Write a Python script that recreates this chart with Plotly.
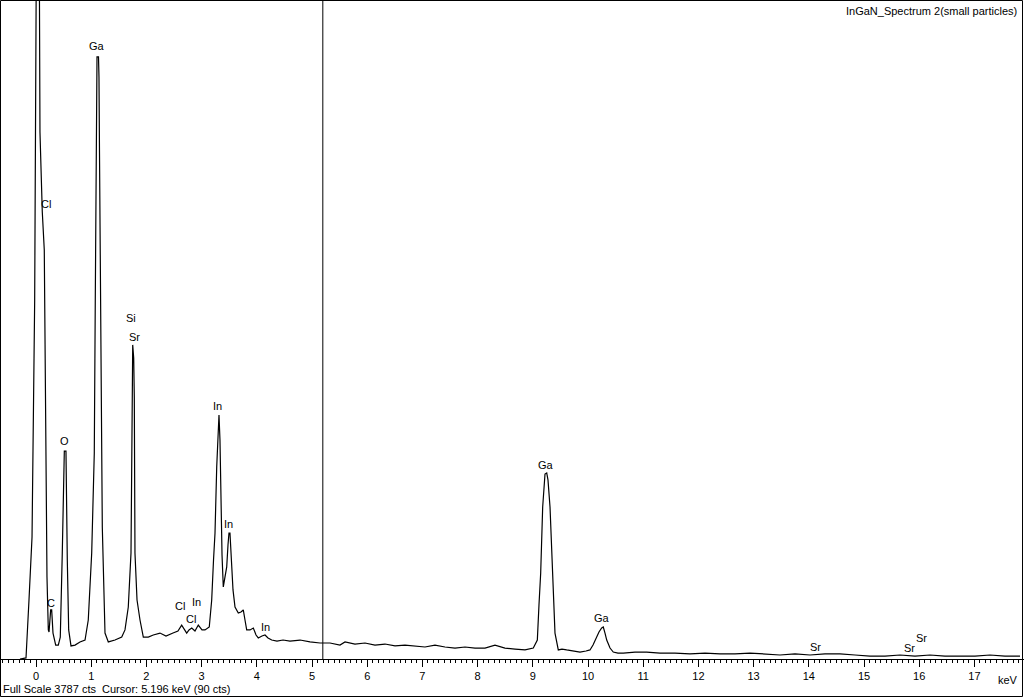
import plotly.graph_objects as go

# Spectrum: energy (keV) and counts
energy_kev = [
    -0.29, -0.181, -0.127, -0.072, -0.024, 0.036, 0.072, 0.096, 0.114, 0.150,
    0.176, 0.199, 0.223, 0.236, 0.266, 0.284, 0.308, 0.357, 0.404, 0.440,
    0.476, 0.495, 0.513, 0.543, 0.549, 0.567, 0.592, 0.634, 0.707, 0.797,
    0.888, 0.947, 1.009, 1.056, 1.074, 1.087, 1.105, 1.132, 1.141, 1.150,
    1.159, 1.178, 1.201, 1.250, 1.310, 1.431, 1.553, 1.612, 1.672, 1.721,
    1.734, 1.745, 1.752, 1.770, 1.781, 1.793, 1.830, 1.884, 1.944, 2.034,
    2.125, 2.246, 2.355, 2.482, 2.572, 2.639, 2.681, 2.730, 2.772, 2.821,
    2.880, 2.940, 3.007, 3.062, 3.139, 3.183, 3.216, 3.243, 3.274, 3.303,
    3.315, 3.333, 3.351, 3.370, 3.393, 3.424, 3.455, 3.478, 3.496, 3.514,
    3.545, 3.569, 3.605, 3.665, 3.714, 3.755, 3.786, 3.817, 3.877, 3.937,
    3.986, 4.027, 4.094, 4.149, 4.203, 4.270, 4.366, 4.475, 4.601, 4.783,
    4.964, 5.145, 5.326, 5.507, 5.598, 5.779, 5.960, 6.141, 6.322, 6.504,
    6.685, 6.866, 7.047, 7.228, 7.409, 7.591, 7.772, 7.953, 8.134, 8.315,
    8.496, 8.678, 8.859, 9.009, 9.049, 9.082, 9.112, 9.143, 9.179, 9.203,
    9.221, 9.252, 9.275, 9.312, 9.353, 9.384, 9.402, 9.462, 9.529, 9.614,
    9.710, 9.855, 9.964, 10.036, 10.091, 10.158, 10.199, 10.248, 10.277, 10.308,
    10.339, 10.399, 10.458, 10.543, 10.640, 10.851, 11.063, 11.304, 11.576, 11.848,
    12.120, 12.391, 12.663, 12.935, 13.207, 13.478, 13.750, 14.022, 14.293, 14.565,
    14.837, 15.109, 15.380, 15.652, 15.924, 16.196, 16.467, 16.739, 17.011, 17.283,
    17.554, 17.826,
]
counts = [
    0, 6, 339, 701, 2063, 6000, 3029, 2782, 2569, 2350,
    1069, 471, 167, 155, 282, 282, 149, 80, 80, 126,
    609, 971, 1195, 1195, 971, 569, 167, 75, 80, 98,
    109, 224, 609, 1184, 2063, 2851, 3460, 3460, 3345, 2925,
    2465, 1488, 759, 149, 98, 109, 126, 167, 299, 609,
    988, 1488, 1805, 1730, 1500, 609, 339, 224, 126, 126,
    138, 149, 132, 149, 161, 195, 172, 149, 167, 178,
    161, 195, 167, 167, 184, 339, 569, 724, 1103, 1402,
    1402, 1259, 914, 598, 414, 483, 529, 655, 724, 724,
    569, 397, 299, 264, 270, 282, 224, 167, 167, 178,
    138, 121, 132, 138, 121, 109, 103, 109, 103, 109,
    98, 92, 92, 80, 98, 86, 92, 80, 86, 75,
    80, 75, 69, 80, 69, 63, 69, 63, 63, 80,
    63, 57, 52, 63, 86, 109, 310, 494, 874, 1029,
    1063, 1069, 1029, 874, 494, 253, 149, 52, 57, 52,
    46, 40, 46, 52, 80, 126, 155, 178, 184, 149,
    109, 63, 40, 34, 34, 40, 40, 34, 34, 29,
    34, 29, 29, 34, 29, 23, 29, 23, 29, 29,
    23, 17, 17, 23, 17, 23, 17, 17, 17, 23,
    17, 17,
]

# Peak labels
label_text = ["Cl", "Ga", "O", "C", "Si", "Sr", "In", "In", "Cl", "In", "Cl", "In",
              "Ga", "Ga", "Sr", "Sr", "Sr"]
label_kev = [0.18, 1.105, 0.525, 0.272, 1.721, 1.793, 3.297, 3.496, 2.609, 2.899, 2.808,
             4.149, 9.239, 10.254, 14.13, 15.82, 16.05]
label_cts = [2615, 3523, 1253, 322, 1960, 1851, 1454, 776, 305, 328, 230,
             184, 1115, 236, 69, 63, 121]

tick_vals = list(range(0, 18))
full_scale = 3787
cursor_kev = 5.196
cursor_cts = 90
title_text = "InGaN_Spectrum 2(small particles)"

FONT = "Liberation Sans, Arial, sans-serif"

fig = go.Figure()
fig.add_trace(go.Scatter(x=energy_kev, y=counts, mode="lines",
                         line=dict(color="black", width=1.2), hoverinfo="skip"))

for t, xk, yc in zip(label_text, label_kev, label_cts):
    fig.add_annotation(x=xk, y=yc, text=t, showarrow=False, xref="x", yref="y",
                       font=dict(family=FONT, size=11, color="black"))

# cursor line
fig.add_shape(type="line", xref="x", yref="paper", x0=cursor_kev, x1=cursor_kev,
              y0=0, y1=1, line=dict(color="black", width=1))

H_PLOT = 659.0
# outer frame
fig.add_shape(type="rect", xref="paper", yref="paper",
              x0=0.5 / 1024, x1=1022.5 / 1024, y0=-37.5 / H_PLOT, y1=1 - 0.5 / H_PLOT,
              line=dict(color="black", width=1), fillcolor="rgba(0,0,0,0)")

fig.add_annotation(xref="paper", yref="paper", x=1019 / 1024, y=1 - 3 / H_PLOT,
                   xanchor="right", yanchor="top", showarrow=False, text=title_text,
                   font=dict(family=FONT, size=11, color="black"))
fig.add_annotation(xref="paper", yref="paper", x=1 / 1024, y=-(689 - 659) / H_PLOT,
                   xanchor="left", yanchor="middle", showarrow=False,
                   text=f"Full Scale {full_scale} cts  Cursor: {cursor_kev:.3f} keV ({cursor_cts} cts)",
                   font=dict(family=FONT, size=11, color="black"))
fig.add_annotation(xref="paper", yref="paper", x=1020 / 1024, y=-(680 - 659) / H_PLOT,
                   xanchor="right", yanchor="middle", showarrow=False, text="keV",
                   font=dict(family=FONT, size=11, color="black"))

fig.update_layout(
    width=1024, height=697,
    margin=dict(l=0, r=0, t=0, b=38, pad=0),
    paper_bgcolor="white", plot_bgcolor="white",
    showlegend=False,
    xaxis=dict(range=[-36 / 55.2, (1024 - 36) / 55.2], tickvals=tick_vals,
               showgrid=False, zeroline=False, showline=True, linecolor="black", linewidth=1,
               ticks="outside", ticklen=7, tickcolor="black", tickwidth=1,
               tickfont=dict(family=FONT, size=11, color="black"),
               minor=dict(dtick=0.1, ticks="outside", ticklen=3, tickcolor="black", tickwidth=1),
               fixedrange=True),
    yaxis=dict(range=[0, full_scale], visible=False, showgrid=False, zeroline=False,
               fixedrange=True),
)

fig.write_html("out.html", config={"displayModeBar": False},
               post_script="document.body.style.margin='0';document.body.style.overflow='hidden';")
